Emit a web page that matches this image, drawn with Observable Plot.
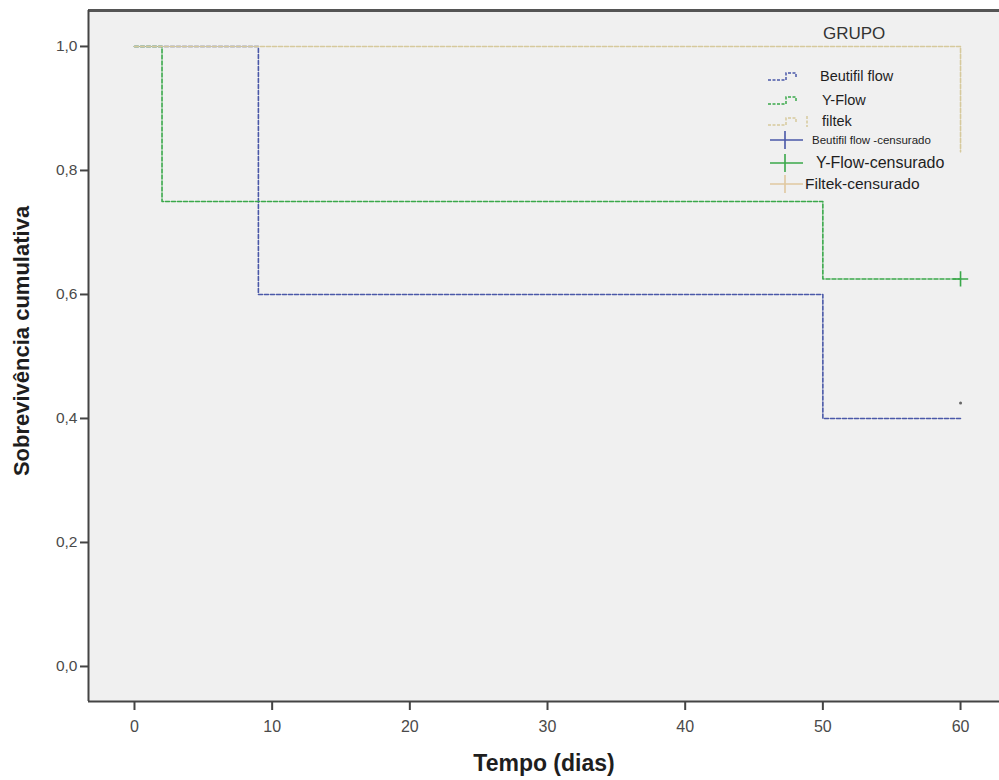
<!DOCTYPE html>
<html>
<head>
<meta charset="utf-8">
<script src="https://cdn.jsdelivr.net/npm/d3@7"></script>
<script src="https://cdn.jsdelivr.net/npm/@observablehq/plot@0.6"></script>
<style>
  html, body { margin: 0; padding: 0; background: #ffffff; }
  #wrap { position: relative; width: 999px; height: 780px; font-family: "Liberation Sans", Arial, sans-serif; }
  #legend { position: absolute; left: 760px; top: 18px; width: 235px; color: #1e1e1e; }
  #legend .title { position: absolute; left: 63px; top: 6px; font-size: 17px; color: #333; }
  #legend .row { position: absolute; left: 0; display: flex; align-items: center; white-space: nowrap; }
  #legend svg { display: block; }
</style>
</head>
<body>
<div id="wrap"></div>
<script>
// ---- data ----
const groups = ["Beutifil flow", "Y-Flow", "filtek"];
const groupColors = ["#4a58a8", "#3aa84a", "#d6c99c"];
const beutifilTime = [0, 9, 50, 60];
const beutifilSurv = [1.0, 0.6, 0.4, 0.4];
const yflowTime = [0, 2, 50, 60];
const yflowSurv = [1.0, 0.75, 0.625, 0.625];
const filtekTime = [0, 60, 60];
const filtekSurv = [1.0, 1.0, 0.83];
const censorGroup = ["Y-Flow", "Beutifil flow"];
const censorTime = [60, 60];
const censorSurv = [0.625, 0.425];
const censorLabels = ["Beutifil flow -censurado", "Y-Flow-censurado", "Filtek-censurado"];
const xTicks = [0, 10, 20, 30, 40, 50, 60];
const yTicks = [0, 0.2, 0.4, 0.6, 0.8, 1.0];
const xDomain = [-3.34, 62.83];
const yDomain = [-0.0565, 1.058];

// ---- table ----
const steps = [];
beutifilTime.forEach((t, i) => steps.push({group: groups[0], t, s: beutifilSurv[i]}));
yflowTime.forEach((t, i) => steps.push({group: groups[1], t, s: yflowSurv[i]}));
filtekTime.forEach((t, i) => steps.push({group: groups[2], t, s: filtekSurv[i]}));
const censors = censorGroup.map((g, i) => ({group: g, t: censorTime[i], s: censorSurv[i]}));
const colorOf = g => groupColors[groups.indexOf(g)];
const fmt = d => d3.format(".1f")(d).replace(".", ",");

const chart = Plot.plot({
  width: 999,
  height: 780,
  marginLeft: 88,
  marginRight: 0,
  marginTop: 10,
  marginBottom: 79,
  style: {background: "#ffffff", fontFamily: "'Liberation Sans', Arial, sans-serif"},
  x: {domain: xDomain},
  y: {domain: yDomain},
  marks: [
    Plot.frame({fill: "#f0f0f0", stroke: null}),
    // borders: top, left, bottom
    Plot.ruleY([yDomain[1]], {stroke: "#555", strokeWidth: 3}),
    Plot.ruleX([xDomain[0]], {stroke: "#444", strokeWidth: 2}),
    Plot.ruleY([yDomain[0]], {stroke: "#444", strokeWidth: 2}),
    Plot.axisY(yTicks, {tickSize: 8, tickPadding: 3, tickFormat: fmt, fontSize: 15.5, fill: "#4a4a4a", stroke: "#444", strokeWidth: 2, label: null}),
    Plot.axisX(xTicks, {tickSize: 9, tickPadding: 10, fontSize: 16, fill: "#4a4a4a", stroke: "#444", strokeWidth: 2, label: null}),
    Plot.text(["Tempo (dias)"], {frameAnchor: "bottom", dy: 69, fontSize: 23, fontWeight: "bold", fill: "#1e1e1e"}),
    Plot.text(["Sobrevivência cumulativa"], {frameAnchor: "left", textAnchor: "middle", dx: -67, dy: -15, rotate: -90, fontSize: 22, fontWeight: "bold", fill: "#1e1e1e"}),
    Plot.line(steps, {x: "t", y: "s", z: "group", stroke: d => colorOf(d.group), curve: "step-after",
      strokeWidth: 1.6, strokeDasharray: "4,2"}),
    Plot.dot(censors.filter(d => d.group === "Y-Flow"), {x: "t", y: "s", symbol: "plus", r: 5, stroke: d => colorOf(d.group), strokeWidth: 1.6}),
    Plot.dot(censors.filter(d => d.group === "Beutifil flow"), {x: "t", y: "s", r: 1.5, fill: "#666", stroke: null})
  ]
});

const wrap = document.getElementById("wrap");
wrap.appendChild(chart);

// ---- legend overlay ----
const legend = document.createElement("div");
legend.id = "legend";
wrap.appendChild(legend);
const title = document.createElement("div");
title.className = "title";
title.textContent = "GRUPO";
legend.appendChild(title);

function stepIcon(color, tick) {
  const ns = "http://www.w3.org/2000/svg";
  const s = document.createElementNS(ns, "svg");
  s.setAttribute("width", 50); s.setAttribute("height", 14);
  const p = document.createElementNS(ns, "path");
  p.setAttribute("d", "M8,11 H26 V4 H36 V9" + (tick ? " M47,2 V13" : ""));
  p.setAttribute("fill", "none"); p.setAttribute("stroke", color);
  p.setAttribute("stroke-width", 1.5); p.setAttribute("stroke-dasharray", "3,1.5");
  s.appendChild(p);
  return s;
}
function plusIcon(color) {
  const ns = "http://www.w3.org/2000/svg";
  const s = document.createElementNS(ns, "svg");
  s.setAttribute("width", 44); s.setAttribute("height", 20);
  const p = document.createElementNS(ns, "path");
  p.setAttribute("d", "M10,10 H43 M25,1 V19");
  p.setAttribute("fill", "none"); p.setAttribute("stroke", color); p.setAttribute("stroke-width", 1.6);
  s.appendChild(p);
  return s;
}
const rows = [
  {icon: stepIcon(groupColors[0], false), text: groups[0], top: 50, size: 14.5, gap: 10},
  {icon: stepIcon(groupColors[1], false), text: groups[1], top: 74, size: 14.5, gap: 12},
  {icon: stepIcon(groupColors[2], true), text: groups[2], top: 95, size: 14.5, gap: 12},
  {icon: plusIcon("#4a58a8"), text: censorLabels[0], top: 112, size: 11.5, gap: 8},
  {icon: plusIcon("#3aa84a"), text: censorLabels[1], top: 135, size: 16, gap: 12},
  {icon: plusIcon("#e0c8a0"), text: censorLabels[2], top: 156, size: 15.5, gap: 1}
];
rows.forEach(r => {
  const row = document.createElement("div");
  row.className = "row";
  row.style.top = r.top + "px";
  row.appendChild(r.icon);
  const t = document.createElement("span");
  t.textContent = r.text;
  t.style.fontSize = r.size + "px";
  t.style.marginLeft = r.gap + "px";
  row.appendChild(t);
  legend.appendChild(row);
});
</script>
</body>
</html>
